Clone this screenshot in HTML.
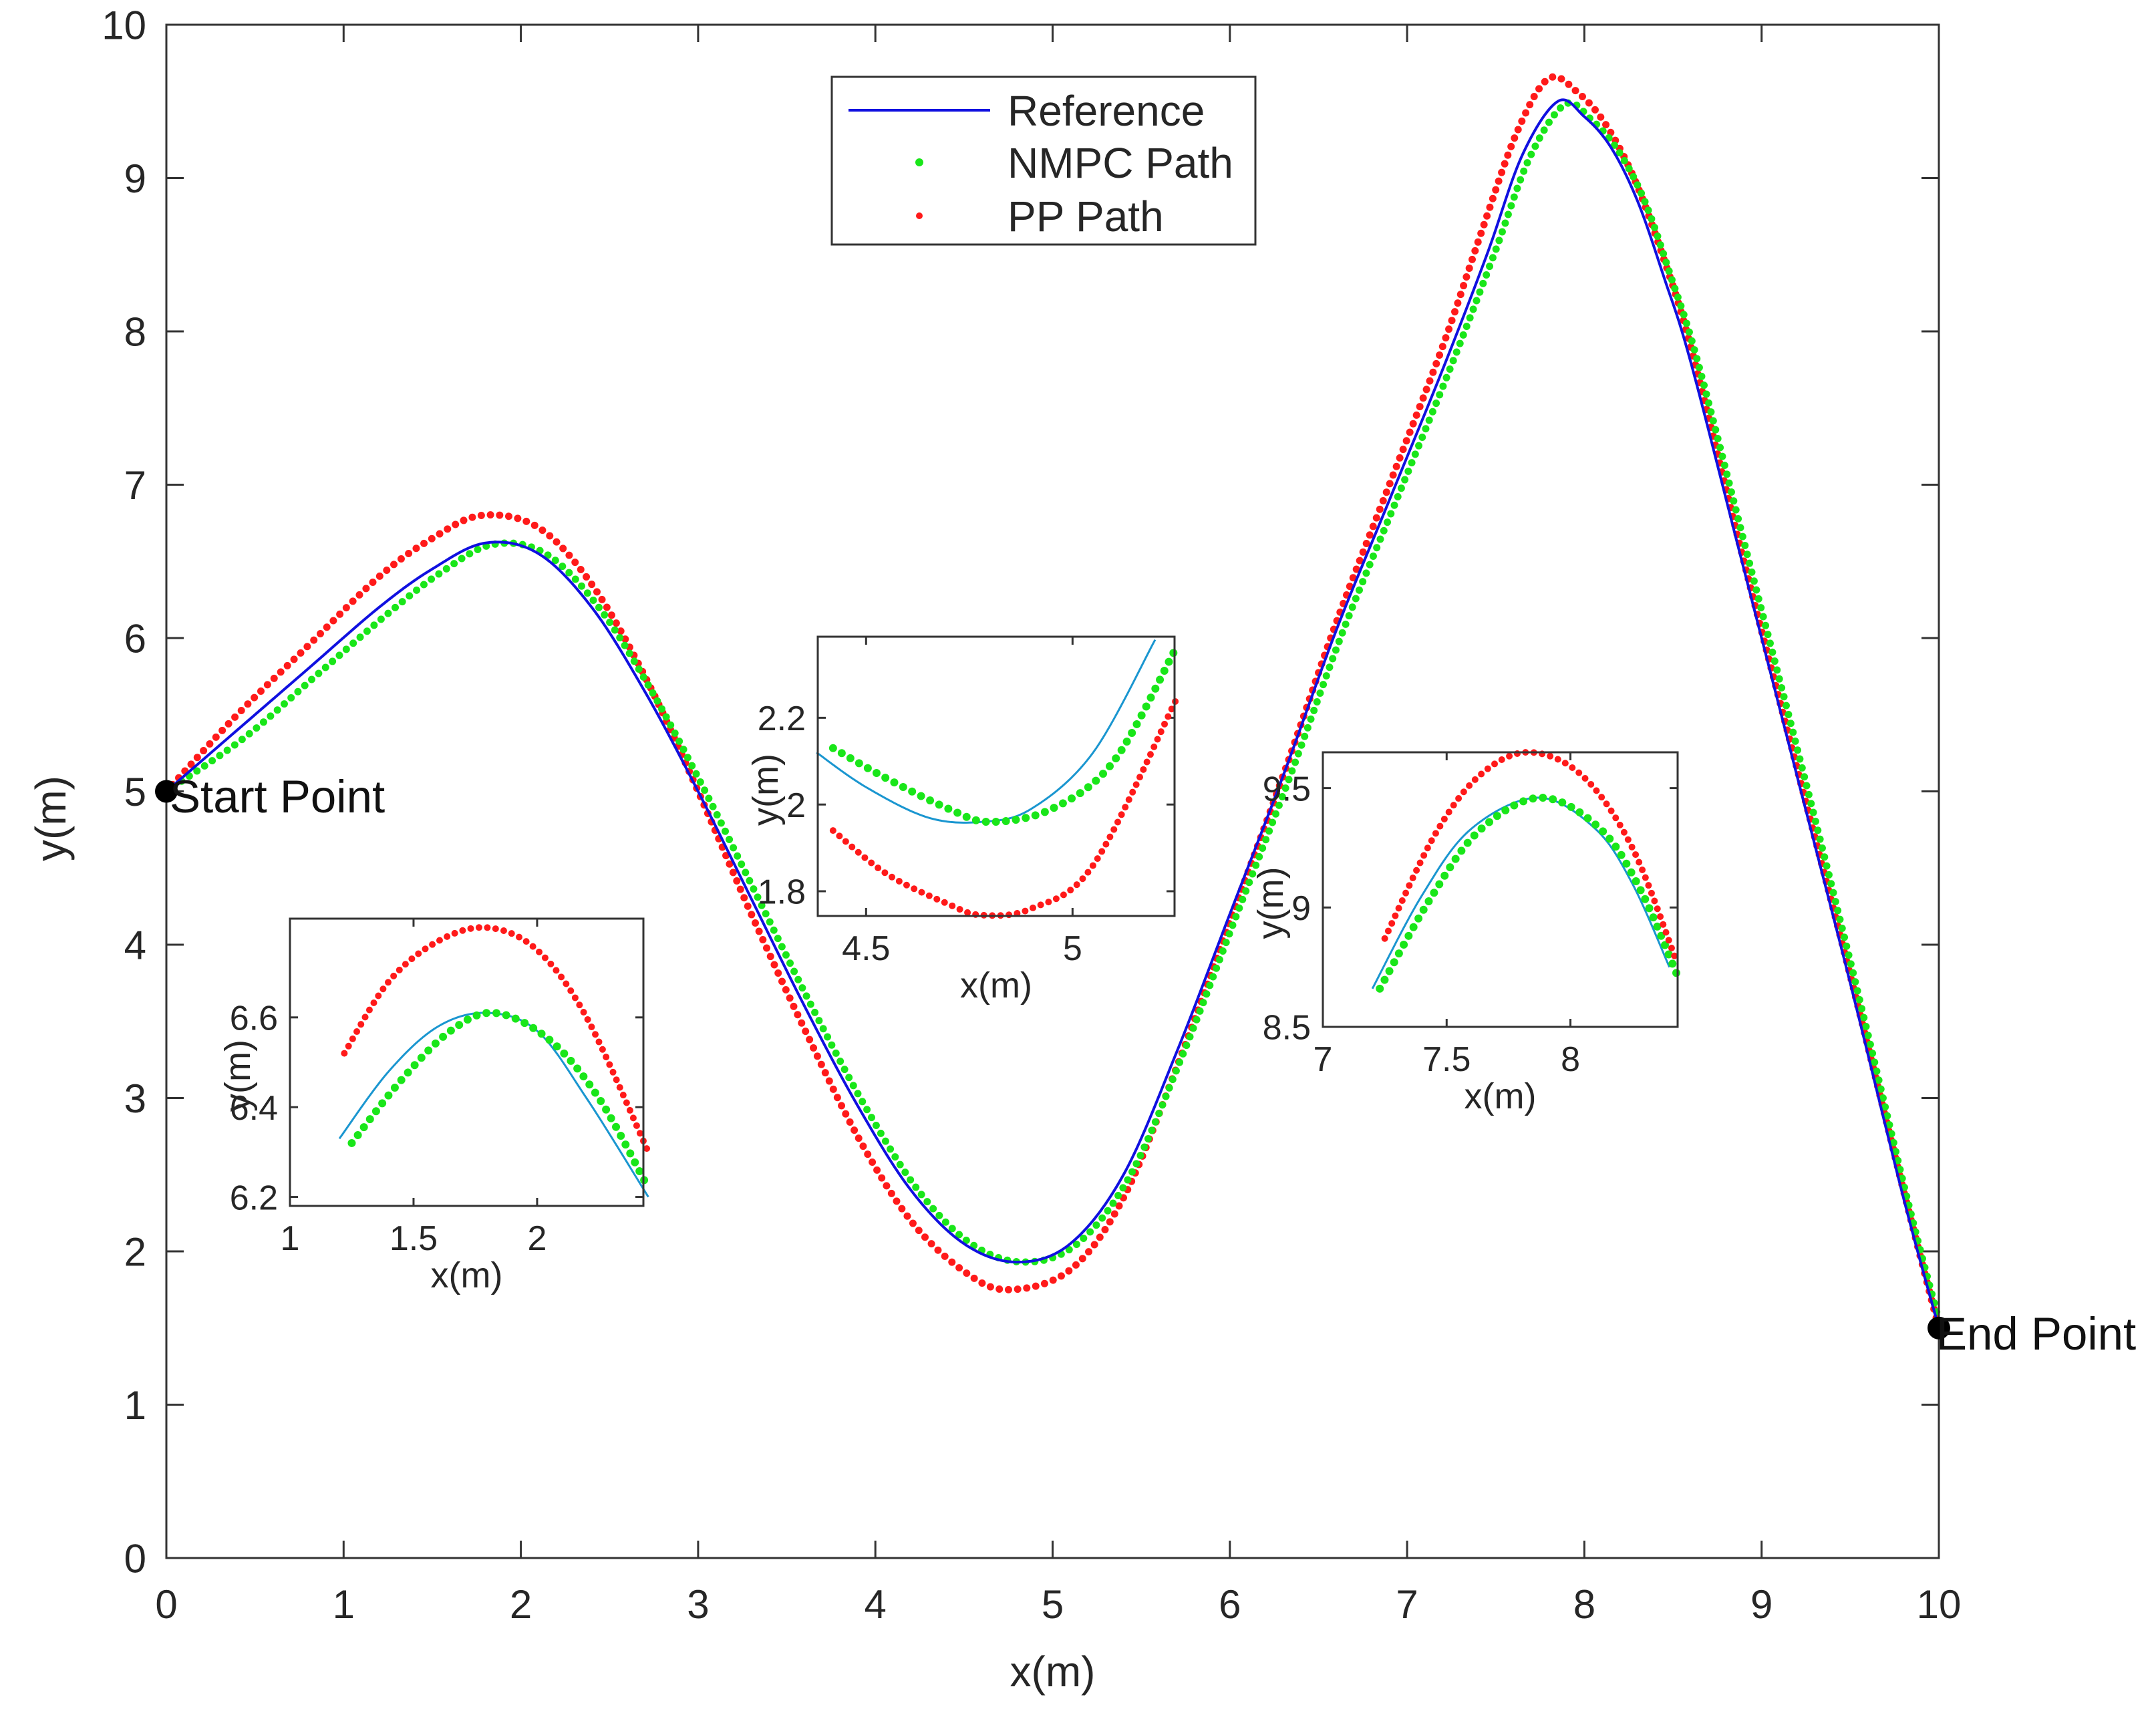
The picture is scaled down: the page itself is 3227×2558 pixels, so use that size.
<!DOCTYPE html>
<html><head><meta charset="utf-8"><style>
html,body{margin:0;padding:0;background:#fff;}
svg{display:block;font-family:"Liberation Sans",Arial,sans-serif;}
</style></head><body>
<svg id="chart" width="3227" height="2558" viewBox="0 0 3227 2558" xmlns="http://www.w3.org/2000/svg"></svg>
<script>
// ---- main data ----
const refX  = [0,0.4,0.8,1.2,1.5,1.8,2.1,2.4,2.7,3.0,3.3,3.6,3.9,4.2,4.5,4.8,5.1,5.4,5.7,6.0,6.3,6.6,6.9,7.2,7.45,7.65,7.85,8.0,8.15,8.3,8.45,8.6,8.9,9.2,9.5,9.8,10];
const refY  = [5.0,5.4,5.8,6.2,6.45,6.62,6.55,6.2,5.65,5.0,4.3,3.6,2.95,2.4,2.05,1.93,2.05,2.5,3.3,4.2,5.1,6.05,6.9,7.75,8.5,9.15,9.5,9.4,9.2,8.85,8.35,7.8,6.45,5.1,3.75,2.35,1.5];
const nmpcX = [0,0.44,0.84,1.24,1.54,1.84,2.14,2.44,2.74,3.04,3.34,3.64,3.94,4.24,4.54,4.84,5.14,5.44,5.74,6.04,6.34,6.64,6.94,7.24,7.49,7.69,7.89,8.04,8.19,8.34,8.49,8.64,8.94,9.24,9.53,9.82,10];
const nmpcY = [5.0,5.35,5.75,6.15,6.42,6.61,6.55,6.2,5.65,5.0,4.3,3.6,2.95,2.4,2.05,1.93,2.05,2.5,3.3,4.2,5.1,6.05,6.9,7.75,8.5,9.13,9.48,9.38,9.18,8.85,8.35,7.8,6.45,5.1,3.75,2.35,1.55];
const ppX   = [0,0.4,0.8,1.2,1.5,1.78,2.1,2.4,2.7,3.0,3.3,3.6,3.9,4.2,4.5,4.75,5.1,5.4,5.7,6.0,6.3,6.6,6.9,7.2,7.42,7.62,7.8,7.97,8.12,8.28,8.44,8.6,8.9,9.2,9.5,9.8,10];
const ppY   = [5.0,5.5,5.95,6.4,6.65,6.8,6.72,6.35,5.75,5.0,4.2,3.45,2.75,2.2,1.87,1.75,1.88,2.35,3.2,4.15,5.1,6.1,7.0,7.9,8.65,9.3,9.65,9.55,9.35,9.0,8.5,7.9,6.5,5.15,3.8,2.4,1.5];
const xTicks = [0,1,2,3,4,5,6,7,8,9,10];
const yTicks = [0,1,2,3,4,5,6,7,8,9,10];
// ---- inset data ----
const in1RefX=[1.2,1.4,1.6,1.8,2.0,2.2,2.45], in1RefY=[6.33,6.48,6.58,6.61,6.57,6.42,6.2];
const in1NmX=[1.25,1.45,1.65,1.83,2.05,2.25,2.45], in1NmY=[6.32,6.46,6.57,6.61,6.55,6.42,6.22];
const in1PpX=[1.22,1.4,1.6,1.8,2.0,2.2,2.45], in1PpY=[6.52,6.68,6.77,6.8,6.75,6.6,6.3];
const in2RefX=[4.38,4.5,4.65,4.78,4.9,5.05,5.2], in2RefY=[2.12,2.04,1.97,1.96,1.99,2.12,2.38];
const in2NmX=[4.42,4.55,4.7,4.8,4.95,5.1,5.25], in2NmY=[2.13,2.06,1.99,1.96,1.99,2.1,2.36];
const in2PpX=[4.42,4.55,4.7,4.78,4.9,5.05,5.25], in2PpY=[1.94,1.84,1.77,1.745,1.76,1.86,2.24];
const in3RefX=[7.2,7.4,7.6,7.87,8.1,8.25,8.4], in3RefY=[8.66,9.05,9.33,9.46,9.33,9.1,8.75];
const in3NmX=[7.23,7.43,7.63,7.88,8.12,8.28,8.43], in3NmY=[8.66,9.03,9.32,9.46,9.33,9.08,8.72];
const in3PpX=[7.25,7.45,7.63,7.83,8.05,8.25,8.43], in3PpY=[8.87,9.3,9.55,9.65,9.55,9.25,8.77];
const in1XTicks=[1,1.5,2], in1YTicks=[6.2,6.4,6.6];
const in2XTicks=[4.5,5], in2YTicks=[1.8,2,2.2];
const in3XTicks=[7,7.5,8], in3YTicks=[8.5,9,9.5];

const NS="http://www.w3.org/2000/svg";
const svg=document.getElementById('chart');
function mk(tag,attrs,parent){const e=document.createElementNS(NS,tag);for(const k in attrs)e.setAttribute(k,attrs[k]);(parent||svg).appendChild(e);return e;}

function spline(xs,ys,n){
  const out=[];
  for(let i=0;i<xs.length-1;i++){
    const p0=[xs[Math.max(i-1,0)],ys[Math.max(i-1,0)]],p1=[xs[i],ys[i]],p2=[xs[i+1],ys[i+1]],p3=[xs[Math.min(i+2,xs.length-1)],ys[Math.min(i+2,xs.length-1)]];
    for(let s=0;s<n;s++){const t=s/n,t2=t*t,t3=t2*t;
      const f=(a,b,c,d)=>0.5*((2*b)+(-a+c)*t+(2*a-5*b+4*c-d)*t2+(-a+3*b-3*c+d)*t3);
      out.push([f(p0[0],p1[0],p2[0],p3[0]),f(p0[1],p1[1],p2[1],p3[1])]);}
  }
  out.push([xs[xs.length-1],ys[ys.length-1]]);return out;
}
function resamplePx(pts,step){
  const res=[pts[0]];let acc=0;
  for(let i=1;i<pts.length;i++){
    let [ax,ay]=pts[i-1];const [bx,by]=pts[i];let seg=Math.hypot(bx-ax,by-ay);
    while(acc+seg>=step){const t=(step-acc)/seg;ax=ax+(bx-ax)*t;ay=ay+(by-ay)*t;res.push([ax,ay]);seg=Math.hypot(bx-ax,by-ay);acc=0;}
    acc+=seg;
  }
  return res;
}

function axes(cfg){
  const {L,R,T,B,xmin,xmax,ymin,ymax,xt,yt,fs,name,tick,xoff,yoff}=cfg;
  const g=mk('g',{});
  
  
  const sx=v=>L+(v-xmin)/(xmax-xmin)*(R-L), sy=v=>B-(v-ymin)/(ymax-ymin)*(B-T);
  mk('rect',{x:L,y:T,width:R-L,height:B-T,fill:'#fff',stroke:'none'},g);
  xt.forEach(v=>{const x=sx(v);
    mk('line',{x1:x,y1:B,x2:x,y2:B-tick,stroke:'#333','stroke-width':3},g);
    mk('line',{x1:x,y1:T,x2:x,y2:T+tick,stroke:'#333','stroke-width':3},g);
    const t=mk('text',{x:x,y:B+xoff,'font-size':fs,'text-anchor':'middle',fill:'#262626'},g);t.textContent=v;
    
    });
  yt.forEach(v=>{const y=sy(v);
    mk('line',{x1:L,y1:y,x2:L+tick,y2:y,stroke:'#333','stroke-width':3},g);
    mk('line',{x1:R,y1:y,x2:R-tick,y2:y,stroke:'#333','stroke-width':3},g);
    const t=mk('text',{x:L-yoff,y:y+fs*0.36,'font-size':fs,'text-anchor':'end',fill:'#262626'},g);t.textContent=v;
    
    });
  return {g,sx,sy};
}
function drawSeries(ax,clip,xs,ys,kind,color,r,name){
  const pts=spline(xs,ys,20).map(p=>[ax.sx(p[0]),ax.sy(p[1])]);
  const g=mk('g',{'clip-path':clip?`url(#${clip})`:''},ax.g);
  
  
  if(kind==='line'){
    mk('polyline',{points:pts.map(p=>p.join(',')).join(' '),fill:'none',stroke:color,'stroke-width':r,'stroke-linejoin':'round'},g);
  } else {
    resamplePx(pts,r*2.5).forEach(p=>mk('circle',{cx:p[0],cy:p[1],r:r,fill:color},g));
  }
}
function frame(ax,c){mk('rect',{x:c.L,y:c.T,width:c.R-c.L,height:c.B-c.T,fill:'none',stroke:'#333','stroke-width':3},ax.g);}

// ---- main axes ----
const M={L:249,R:2902,T:37,B:2332,xmin:0,xmax:10,ymin:0,ymax:10,xt:xTicks,yt:yTicks,fs:60,name:'main-axes',tick:26,xoff:90,yoff:30};
const main=axes(M);
drawSeries(main,null,ppX,ppY,'dots','#ff1a1a',5.5,'pp-path-series');
drawSeries(main,null,nmpcX,nmpcY,'dots','#19e619',5.5,'nmpc-path-series');
drawSeries(main,null,refX,refY,'line','#1010e0',4,'reference-series');
frame(main,M);
let t=mk('text',{x:(M.L+M.R)/2,y:2524,'font-size':64,'text-anchor':'middle',fill:'#262626'});t.textContent='x(m)';


t=mk('text',{x:0,y:0,'font-size':64,'text-anchor':'middle',fill:'#262626',transform:'translate(98,1225) rotate(-90)'});t.textContent='y(m)';


let c=mk('circle',{cx:main.sx(refX[0]),cy:main.sy(refY[0]),r:17,fill:'#000'});


t=mk('text',{x:254,y:1216,'font-size':69,fill:'#111'});t.textContent='Start Point';


c=mk('circle',{cx:main.sx(refX[refX.length-1]),cy:main.sy(refY[refY.length-1]),r:17,fill:'#000'});


t=mk('text',{x:2898,y:2020,'font-size':69,fill:'#111'});t.textContent='End Point';



// ---- legend ----
const lg=mk('g',{});


mk('rect',{x:1245,y:115,width:634,height:251,fill:'#fff',stroke:'#333','stroke-width':3},lg);
mk('line',{x1:1270,y1:165,x2:1482,y2:165,stroke:'#1010e0','stroke-width':4},lg);
mk('circle',{cx:1376,cy:243,r:6,fill:'#19e619'},lg);
mk('circle',{cx:1376,cy:323,r:5,fill:'#ff1a1a'},lg);
[['Reference',188],['NMPC Path',266],['PP Path',346]].forEach(([s,y])=>{const e=mk('text',{x:1508,y:y,'font-size':64,fill:'#262626'},lg);e.textContent=s;
  
  });

// ---- insets ----
const defs=mk('defs',{});
function inset(c,id,rx,ry,nx,ny,px,py,name){
  const ax=axes(c);
  const cp=mk('clipPath',{id:id},defs);mk('rect',{x:c.L-10,y:c.T-10,width:c.R-c.L+20,height:c.B-c.T+20},cp);
  drawSeries(ax,id,rx,ry,'line','#1a96d0',3,name+'-reference');
  drawSeries(ax,id,nx,ny,'dots','#19e619',6,name+'-nmpc');
  drawSeries(ax,id,px,py,'dots','#ff1a1a',5,name+'-pp');
  frame(ax,c);
  let e=mk('text',{x:(c.L+c.R)/2,y:c.B+122,'font-size':54,'text-anchor':'middle',fill:'#262626'},ax.g);e.textContent='x(m)';
  
  
  e=mk('text',{x:0,y:0,'font-size':54,'text-anchor':'middle',fill:'#262626',transform:`translate(${c.L-60},${(c.T+c.B)/2+20}) rotate(-90)`},ax.g);e.textContent='y(m)';
  
  
}
inset({L:434,R:963,T:1375,B:1805,xmin:1,xmax:2.43,ymin:6.18,ymax:6.82,xt:in1XTicks,yt:in1YTicks,fs:52,name:'inset-peak-1',tick:12,xoff:66,yoff:18},'c1',in1RefX,in1RefY,in1NmX,in1NmY,in1PpX,in1PpY,'inset1');
inset({L:1224,R:1758,T:953,B:1371,xmin:4.383,xmax:5.247,ymin:1.743,ymax:2.387,xt:in2XTicks,yt:in2YTicks,fs:52,name:'inset-trough',tick:12,xoff:66,yoff:18},'c2',in2RefX,in2RefY,in2NmX,in2NmY,in2PpX,in2PpY,'inset2');
inset({L:1980,R:2511,T:1126,B:1537,xmin:7,xmax:8.433,ymin:8.5,ymax:9.65,xt:in3XTicks,yt:in3YTicks,fs:52,name:'inset-peak-2',tick:12,xoff:66,yoff:18},'c3',in3RefX,in3RefY,in3NmX,in3NmY,in3PpX,in3PpY,'inset3');
</script>
</body></html>
